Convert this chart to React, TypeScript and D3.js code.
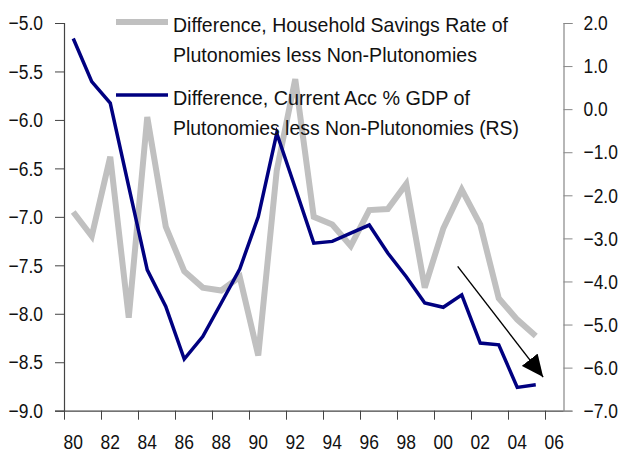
import React, { useRef, useEffect } from 'react';
import * as d3 from 'd3';

// years shown on the category axis (1980 .. 2006)
const categories = d3.range(1980, 2007);
const tickYears = d3.range(1980, 2007, 2);
const tickLabels = ['80', '82', '84', '86', '88', '90', '92', '94', '96', '98', '00', '02', '04', '06'];

// data years
const years = d3.range(1980, 2006);

// Difference, Household Savings Rate of Plutonomies less Non-Plutonomies (LHS)
const savings = [
  -6.95, -7.2, -6.38, -8.04, -5.97, -7.1, -7.56, -7.73, -7.76, -7.62,
  -8.43, -6.52, -5.58, -7.0, -7.08, -7.3, -6.93, -6.92, -6.66, -7.73,
  -7.12, -6.72, -7.08, -7.84, -8.06, -8.23,
];

// Difference, Current Acc % GDP of Plutonomies less Non-Plutonomies (RHS)
const currentAcc = [
  1.64, 0.64, 0.14, -1.8, -3.73, -4.58, -5.8, -5.28, -4.5, -3.71,
  -2.5, -0.56, -1.83, -3.11, -3.07, -2.88, -2.69, -3.34, -3.89, -4.5,
  -4.6, -4.31, -5.43, -5.47, -6.46, -6.4,
];

const leftTicks = [-5.0, -5.5, -6.0, -6.5, -7.0, -7.5, -8.0, -8.5, -9.0];
const rightTicks = [2, 1, 0, -1, -2, -3, -4, -5, -6, -7];

const legendLines = [
  ['Difference, Household Savings Rate of', 'Plutonomies less Non-Plutonomies'],
  ['Difference, Current Acc % GDP of', 'Plutonomies less Non-Plutonomies (RS)'],
];

// trend arrow, in (year, right-axis value)
const arrowFrom = [2001.28, -3.65];
const arrowTo = [2005.9, -6.22];

const FONT = "'Liberation Sans', Arial, sans-serif";
const NARROW = 0.83; // the original uses a condensed face

const App = () => {
  const svgRef = useRef(null);

  useEffect(() => {
    const width = 621;
    const height = 452;
    const margin = { top: 23, right: 57.5, bottom: 41.3, left: 64 };

    const svg = d3.select(svgRef.current)
      .attr('width', width)
      .attr('height', height);

    svg.selectAll('*').remove();

    const x = d3.scaleLinear()
      .domain([categories[0], categories[categories.length - 1] + 1])
      .range([margin.left, width - margin.right]);

    const yL = d3.scaleLinear()
      .domain([-9, -5])
      .range([height - margin.bottom, margin.top]);

    const yR = d3.scaleLinear()
      .domain([-7, 2])
      .range([height - margin.bottom, margin.top]);

    // Axes
    const left = svg.append('g')
      .attr('transform', `translate(${margin.left},0)`)
      .call(d3.axisLeft(yL).tickValues(leftTicks).tickFormat(d3.format('.1f')).tickSize(9).tickPadding(12));
    left.selectAll('path, line').attr('stroke', '#444');

    const right = svg.append('g')
      .attr('transform', `translate(${width - margin.right},0)`)
      .call(d3.axisRight(yR).tickValues(rightTicks).tickFormat(d3.format('.1f')).tickSize(9).tickPadding(11));
    right.selectAll('path, line').attr('stroke', '#888');

    const bottom = svg.append('g')
      .attr('transform', `translate(0,${height - margin.bottom})`)
      .call(d3.axisBottom(x).tickValues(tickYears).tickSize(9).tickFormat(() => ''));
    bottom.select('path').attr('d', `M${margin.left},0.5H${width - margin.right}`);
    bottom.selectAll('path, line').attr('stroke', '#444');
    svg.selectAll('.domain').attr('stroke-width', 1.2);

    svg.append('g')
      .attr('class', 'xlabels')
      .selectAll('text')
      .data(tickYears)
      .join('text')
      .attr('x', d => x(d + 0.5))
      .attr('y', height - 3)
      .attr('text-anchor', 'middle')
      .text((d, i) => tickLabels[i]);

    // condensed look for all tick labels: squeeze horizontally, keep anchor in place
    svg.selectAll('text')
      .attr('font-family', FONT)
      .attr('font-size', 21)
      .attr('fill', '#111')
      .each(function () {
        const el = d3.select(this);
        const x0 = +(el.attr('x') || 0);
        el.attr('x', x0 / NARROW).attr('transform', `scale(${NARROW},1)`);
      });

    // Lines
    const lineL = d3.line<number>()
      .x((d, i) => x(years[i] + 0.5))
      .y(d => yL(d));
    const lineR = d3.line<number>()
      .x((d, i) => x(years[i] + 0.5))
      .y(d => yR(d));

    svg.append('path')
      .datum(savings)
      .attr('fill', 'none')
      .attr('stroke', '#c0c0c0')
      .attr('stroke-width', 6)
      .attr('d', lineL);

    svg.append('path')
      .datum(currentAcc)
      .attr('fill', 'none')
      .attr('stroke', '#000080')
      .attr('stroke-width', 3.5)
      .attr('d', lineR);

    // Arrow
    svg.append('defs').append('marker')
      .attr('id', 'arrowhead')
      .attr('markerUnits', 'userSpaceOnUse')
      .attr('viewBox', '0 0 22 20')
      .attr('refX', 22)
      .attr('refY', 10)
      .attr('markerWidth', 22)
      .attr('markerHeight', 20)
      .attr('orient', 'auto')
      .append('path')
      .attr('d', 'M0,0L22,10L0,20Z')
      .attr('fill', '#000');

    svg.append('line')
      .attr('x1', x(arrowFrom[0]))
      .attr('y1', yR(arrowFrom[1]))
      .attr('x2', x(arrowTo[0]))
      .attr('y2', yR(arrowTo[1]))
      .attr('stroke', '#000')
      .attr('stroke-width', 1.4)
      .attr('marker-end', 'url(#arrowhead)');

    // Legend
    const legendStyles = [
      { color: '#c0c0c0', width: 6, y: 22, lens: [335, 304] },
      { color: '#000080', width: 3.5, y: 95, lens: [297, 346] },
    ];
    legendStyles.forEach((s, k) => {
      svg.append('line')
        .attr('x1', 116).attr('x2', 168)
        .attr('y1', s.y).attr('y2', s.y)
        .attr('stroke', s.color)
        .attr('stroke-width', s.width);
      legendLines[k].forEach((t, j) => {
        svg.append('text')
          .attr('x', 173)
          .attr('y', s.y + 9.7 + j * 30)
          .attr('font-family', FONT)
          .attr('font-size', 21)
          .attr('fill', '#111')
          .attr('textLength', s.lens[j])
          .attr('lengthAdjust', 'spacingAndGlyphs')
          .text(t);
      });
    });
  }, []);

  return (
    <svg ref={svgRef} style={{ position: 'absolute', left: 0, top: 0, background: '#fff' }}></svg>
  );
};

export default App;
